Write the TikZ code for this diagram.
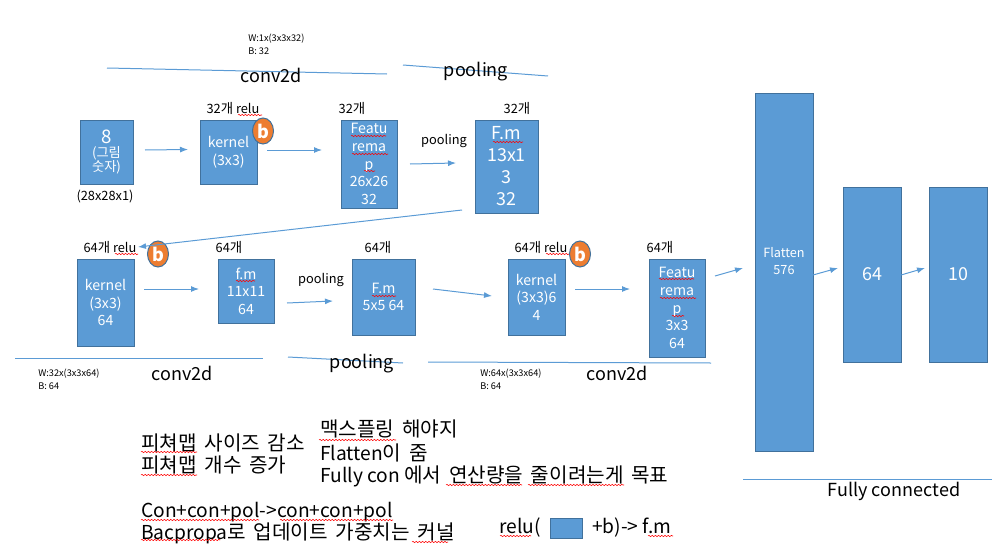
\documentclass[tikz,border=0pt]{standalone}
\usepackage{fontspec}
\usetikzlibrary{decorations.pathmorphing,shapes.geometric,arrows.meta}
\setmainfont{Noto Sans CJK KR}
\newfontfamily\kr[Scale=1.05,WordSpace=1.7]{Noto Sans CJK KR}
\definecolor{bluefill}{HTML}{5B9BD5}
\definecolor{blueedge}{HTML}{41719C}
\definecolor{orangefill}{HTML}{ED7D31}
\newcommand{\px}[2]{\fontsize{#1}{#2}\selectfont}
\tikzset{
  x=0.75pt,y=-0.75pt,
  boxa/.style={draw=blueedge,fill=bluefill,line width=0.75pt,text=white,align=center,inner sep=0pt,anchor=center},
  bcirc/.style={ellipse,draw=blueedge,fill=orangefill,line width=0.75pt,text=white,inner sep=0pt,minimum width=15.75pt,minimum height=19.5pt,font=\px{13.5pt}{15pt}\bfseries},
  lab/.style={inner sep=0pt,text=black,align=center},
  llab/.style={inner sep=0pt,text=black,align=left,anchor=west},
  head/.style={lab,font=\px{13.5pt}{15pt}},
  cnt/.style={lab,font=\px{9.6pt}{11pt}},
  tiny/.style={llab,font=\px{6.9pt}{9pt}},
  note/.style={llab,font=\px{14.4pt}{17pt}},
  arr/.style={draw=bluefill,line width=0.75pt,-{Latex[length=6pt,width=4.5pt]}},
  rulel/.style={draw=bluefill,line width=0.75pt},
  wav/.style={draw=red,line width=0.4pt,decorate,decoration={snake,amplitude=0.5pt,segment length=2.4pt}}
}
% name, x1,y1,x2,y2 (px), font, text
\newcommand{\bx}[7]{%
  \node[boxa,minimum width={(#4-#2)*0.75pt},minimum height={(#5-#3)*0.75pt},font=#6] (#1) at ({(#2+#4)/2},{(#3+#5)/2}) {#7};}
\newcommand{\wv}[3]{\draw[wav] (#1,#3) -- (#2,#3);}
\newcommand{\lnk}[6]{\coordinate (#1s) at (#2,#3); \coordinate (#1e) at (#4,#5); \draw[#6] (#1s) -- (#1e);}
\begin{document}
\begin{tikzpicture}
\useasboundingbox (0,0) rectangle (996,553);
\def\fa{\px{10.6pt}{13.2pt}}
\def\fb{\px{13.4pt}{16.5pt}}
% row 1
\bx{n8}{80}{120}{133}{184}{\px{9.5pt}{10.5pt}}{{\px{14pt}{15pt}8}\\{\kr (그림}\\{\kr 숫자)}}
\bx{k1}{200}{120}{257}{184}{\fa}{kernel\\(3x3)}
\bx{f1}{341}{120}{397}{208}{\fa}{Featu\\rema\\p\\26x26\\32}
\bx{m1}{475}{120}{538}{213}{\fb}{F.m\\13x1\\3\\32}
% row 2
\bx{k2}{77}{259}{134}{346}{\fa}{kernel\\(3x3)\\64}
\bx{f2}{218}{259}{274}{323}{\fa}{f.m\\11x11\\64}
\bx{m2}{352}{259}{415}{335}{\fa}{F.m\\5x5 64}
\bx{k3}{508}{259}{565}{335}{\fa}{kernel\\(3x3)6\\4}
\bx{f3}{649}{259}{705}{357}{\fa}{Featu\\rema\\p\\3x3\\64}
% right
\bx{fl}{755}{93}{813}{451}{\fa}{}
\node[lab,text=white,font=\px{9.5pt}{12.8pt}] (fltxt) at (784,261) {Flatten\\576};
\bx{d64}{843}{187}{901}{362}{\px{13.4pt}{16pt}}{64}
\bx{d10}{929}{187}{987}{362}{\px{13.4pt}{16pt}}{10}
% circles
\node[bcirc] (b1) at (263,131) {b};
\node[bcirc] (b2) at (158,254) {b};
\node[bcirc] (b3) at (580,254) {b};
% arrows
\lnk{a1}{145}{150}{188}{149.5}{arr}
\lnk{a2}{267}{150}{322}{150}{arr}
\lnk{a3}{410}{164}{456}{163}{arr}
\lnk{a4}{462}{210}{138}{247}{arr}
\lnk{a5}{144}{289}{199}{289}{arr}
\lnk{a6}{287}{303}{333}{301}{arr}
\lnk{a7}{433}{289}{492}{296}{arr}
\lnk{a8}{575}{289}{630}{289}{arr}
\lnk{a9}{715}{276}{743}{268}{arr}
\lnk{a10}{813}{275}{838}{268}{arr}
\lnk{a11}{901}{275}{925}{268}{arr}
% rules
\lnk{r1}{107}{68}{387}{74}{rulel}
\lnk{r2}{403}{65}{548}{76}{rulel}
\lnk{r3}{15}{358}{263}{358}{rulel}
\lnk{r4}{288}{357}{403}{363}{rulel}
\lnk{r5}{428}{362}{711}{363}{rulel}
\lnk{r6}{743}{479}{992}{479}{rulel}
% headings
\node[head] (t1) at (271,75) {conv2d};
\node[head] (t2) at (476,72) {pooling};
\node[head] (t3) at (182,373) {conv2d};
\node[head] (t4) at (362,364) {pooling};
\node[head] (t5) at (617,373) {conv2d};
\node[head] (t6) at (894,491) {Fully connected};
% small labels
\node[cnt] (c1) at (233,108) {32{\kr 개} relu};
\node[cnt] (c2) at (352,108) {32{\kr 개}};
\node[cnt] (c3) at (517,108) {32{\kr 개}};
\node[cnt] (c4) at (110,247) {64{\kr 개} relu};
\node[cnt] (c5) at (229,247) {64{\kr 개}};
\node[cnt] (c6) at (378,247) {64{\kr 개}};
\node[cnt] (c7) at (541,247) {64{\kr 개} relu};
\node[cnt] (c8) at (660,247) {64{\kr 개}};
\node[cnt] (p1) at (444,141) {pooling};
\node[cnt] (p2) at (321,280) {pooling};
\node[cnt] (s1) at (105,197) {(28x28x1)};
\node[tiny] (w1) at (248,39) {W:1x(3x3x32)};
\node[tiny] (w2) at (248,51) {B: 32};
\node[tiny] (w3) at (38,374) {W:32x(3x3x64)};
\node[tiny] (w4) at (38,386) {B: 64};
\node[tiny] (w5) at (480,374) {W:64x(3x3x64)};
\node[tiny] (w6) at (480,386) {B: 64};
% notes
\node[note] (k1t) at (141,443) {\kr 피쳐맵 사이즈 감소};
\node[note] (k2t) at (141,465) {\kr 피쳐맵 개수 증가};
\node[note] (k3t) at (320,429) {\kr 맥스플링 해야지};
\node[note] (k4t) at (320,453) {Flatten{\kr 이 줌}};
\node[note] (k5t) at (320,476) {Fully con {\kr 에서 연산량을 줄이려는게 목표}};
\node[note] (k6t) at (141,512) {Con+con+pol->con+con+pol};
\node[note] (k7t) at (141,533) {Bacpropa{\kr 로 업데이트 가중치는 커널}};
\node[note] (k8t) at (499,528) {relu(};
\node[boxa,minimum width=24pt,minimum height=15pt] (swatch) at (566,528) {};
\node[note] (k9t) at (592,528) {+b)-> f.m};
% squiggles
\wv{238}{262}{115}
\wv{351}{386}{136}\wv{352}{388}{154}\wv{364}{375}{171}
\wv{493}{523}{142}
\wv{115}{138}{254}
\wv{236}{255}{281}
\wv{372}{396}{296}
\wv{546}{569}{254}
\wv{659}{694}{279}\wv{660}{696}{298}\wv{672}{684}{316}
\wv{141}{197}{452}\wv{141}{197}{475}
\wv{319}{396}{440}
\wv{446}{522}{485}\wv{528}{624}{485}
\wv{141}{259}{520}\wv{280}{393}{520}
\wv{141}{220}{540}\wv{412}{448}{542}
\wv{500}{531}{536}\wv{648}{673}{536}
\end{tikzpicture}
\end{document}
